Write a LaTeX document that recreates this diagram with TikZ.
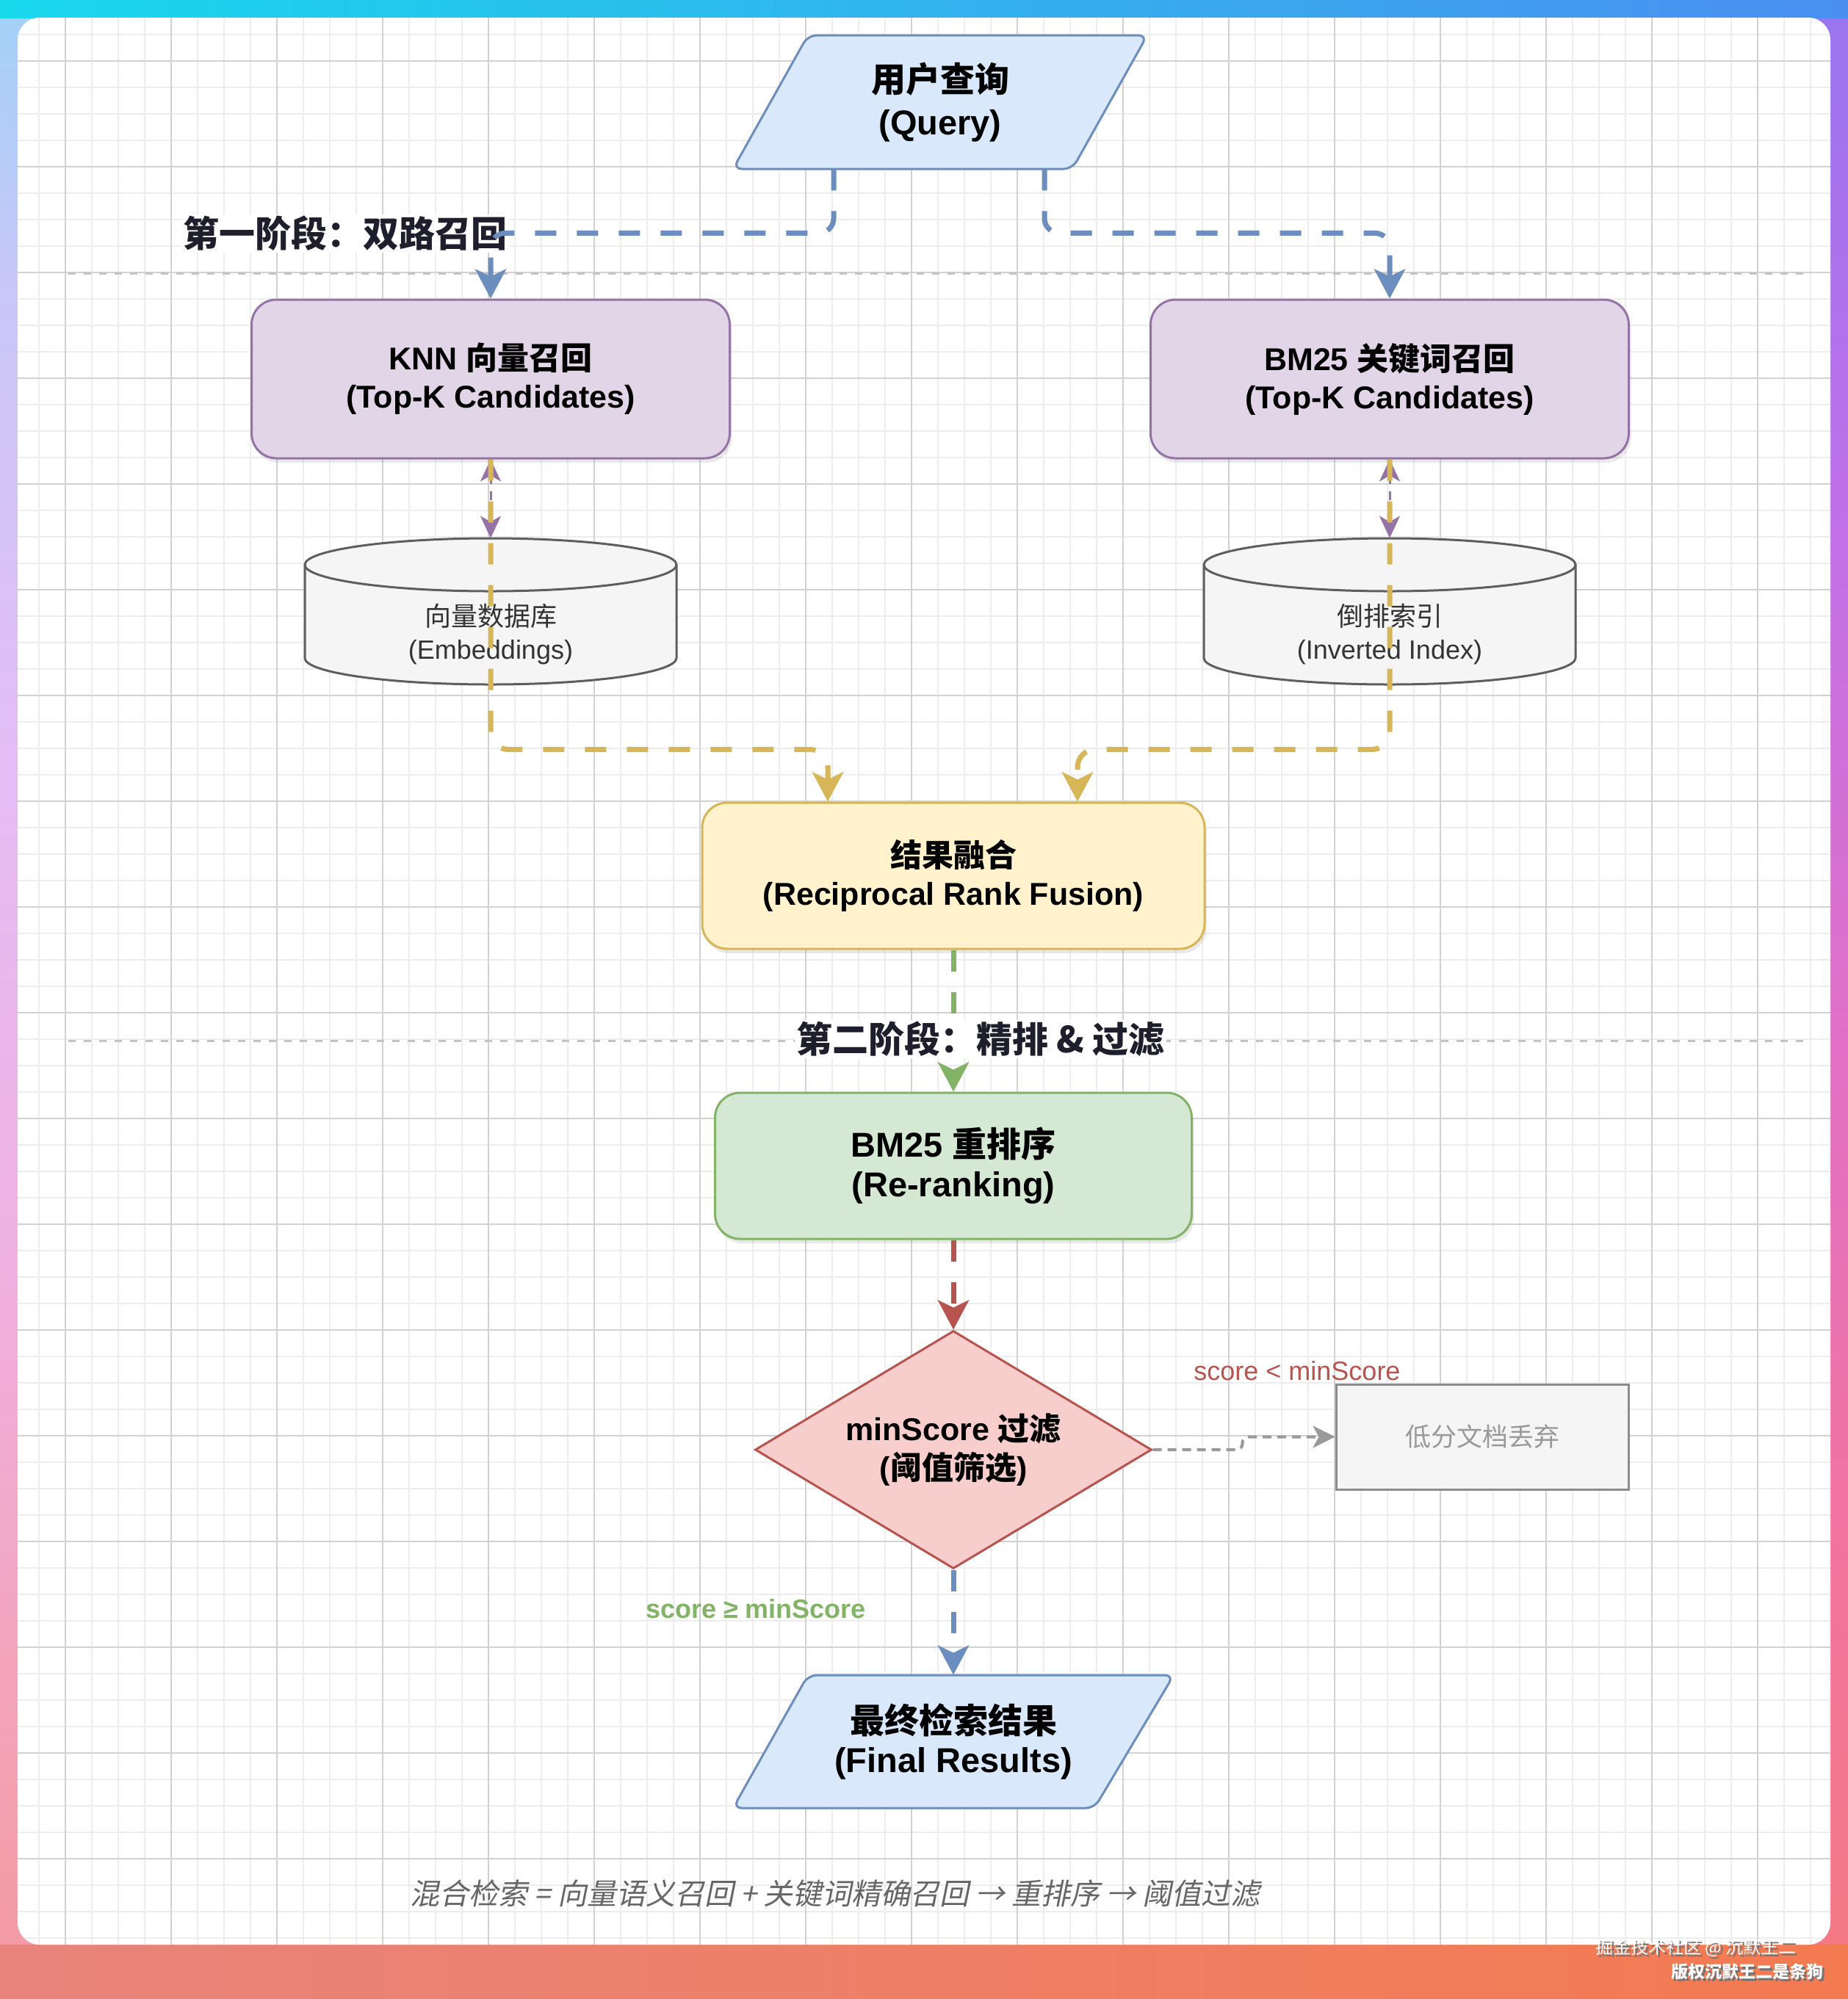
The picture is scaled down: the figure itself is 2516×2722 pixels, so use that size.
\documentclass[tikz,border=0pt]{standalone}
\usepackage{fontspec}
\setmainfont{Liberation Sans}
\newfontfamily\cjk{Noto Sans CJK SC}
\newfontfamily\cjkit{Noto Sans CJK SC}[FakeSlant=0.2]
\usetikzlibrary{arrows.meta,shapes.geometric,shadows}
\newcommand\zhtxt[1]{{\cjk #1}}

\definecolor{bfill}{HTML}{DAE8FC}\definecolor{bstroke}{HTML}{6C8EBF}
\definecolor{pfill}{HTML}{E1D5E7}\definecolor{pstroke}{HTML}{9673A6}
\definecolor{yfill}{HTML}{FFF2CC}\definecolor{ystroke}{HTML}{D6B656}
\definecolor{gfill}{HTML}{D5E8D4}\definecolor{gstroke}{HTML}{82B366}
\definecolor{rfill}{HTML}{F8CECC}\definecolor{rstroke}{HTML}{B85450}
\definecolor{cfill}{HTML}{F5F5F5}\definecolor{cstroke}{HTML}{5E5E5E}
\definecolor{phasetxt}{HTML}{1E1E2C}
\definecolor{gminor}{HTML}{EDEDED}\definecolor{gmajor}{HTML}{D2D2D2}
\definecolor{sepc}{HTML}{C4C4C4}
\definecolor{captxt}{HTML}{666666}
\definecolor{distxt}{HTML}{999999}\definecolor{disstroke}{HTML}{8C8C8C}
\definecolor{cyltxt}{HTML}{333333}
% frame colours
\definecolor{L0}{HTML}{E8847C}\definecolor{L1}{HTML}{F08C8C}\definecolor{L2}{HTML}{F4A0B0}
\definecolor{L3}{HTML}{F0B0E0}\definecolor{L4}{HTML}{E6BCF4}\definecolor{L5}{HTML}{C8C8F8}
\definecolor{L6}{HTML}{80D8F8}\definecolor{L7}{HTML}{18D8EC}
\definecolor{R0}{HTML}{F47A50}\definecolor{R1}{HTML}{F47C64}\definecolor{R2}{HTML}{F47A80}
\definecolor{R3}{HTML}{F274A0}\definecolor{R4}{HTML}{E070C8}\definecolor{R5}{HTML}{C070E8}
\definecolor{R6}{HTML}{9A74F0}\definecolor{R7}{HTML}{7080F0}\definecolor{R8}{HTML}{4A8FF0}
\definecolor{TM}{HTML}{00C0EC}\definecolor{BM}{HTML}{EC8068}

\pgfdeclareverticalshading{leftgrad}{100bp}{color(0bp)=(L0); color(17bp)=(L1); color(30bp)=(L2); color(43bp)=(L3); color(55bp)=(L4); color(68bp)=(L5); color(81bp)=(L6); color(100bp)=(L7)}
\pgfdeclareverticalshading{rightgrad}{100bp}{color(0bp)=(R0); color(11bp)=(R1); color(23bp)=(R2); color(36bp)=(R3); color(49bp)=(R4); color(62bp)=(R5); color(75bp)=(R6); color(87bp)=(R7); color(100bp)=(R8)}

\tikzset{
  box/.style={draw, line width=1.5pt, rounded corners=17pt, align=center, inner sep=0pt,
    font=\bfseries\fontsize{21.5}{26}\selectfont,
    drop shadow={opacity=0.17, shadow xshift=1.5pt, shadow yshift=-3pt}},
  pgramshape/.style={draw=bstroke, fill=bfill, line width=1.5pt, rounded corners=6pt},
  pgramtext/.style={rectangle, inner sep=0pt, align=center},
  cylstyle/.style={draw=cstroke, fill=cfill, line width=1.5pt},
  cyltext/.style={align=center, text=cyltxt, font=\fontsize{18}{22.5}\selectfont},
  phase/.style={font=\cjk\bfseries\fontsize{24.5}{28}\selectfont, text=phasetxt, fill=white, inner sep=1pt},
  dashbig/.style={line width=3.5pt, dash pattern=on 14.5pt off 14pt},
  bigtip/.style={-{Stealth[length=20pt,width=21pt,inset=5pt]}},
  cblue/.style={dashbig, bigtip, draw=bstroke, rounded corners=10pt},
  cyellow/.style={dashbig, bigtip, draw=ystroke, rounded corners=12pt},
  cgreen/.style={dashbig, bigtip, draw=gstroke},
  cred/.style={dashbig, bigtip, draw=rstroke},
  cpurple/.style={draw=pstroke, line width=1.5pt, dash pattern=on 6pt off 5pt,
    {Stealth[length=15pt,width=14pt,inset=4pt]}-{Stealth[length=15pt,width=14pt,inset=4pt]}},
  cgray/.style={draw=distxt, line width=2pt, dash pattern=on 6pt off 4pt, rounded corners=4pt,
    -{Stealth[length=15pt,width=15pt,inset=4pt]}},
  sepline/.style={draw=sepc, line width=1.5pt, dash pattern=on 5pt off 5.5pt},
}

\newcommand\drawcyl[1]{%
  \filldraw[cylstyle] ({#1-253},769) -- ({#1-253},896)
    arc[start angle=180,end angle=0,x radius=253,y radius=36] -- ({#1+253},769)
    arc[start angle=0,end angle=-180,x radius=253,y radius=36] -- cycle;
  \draw[cylstyle,fill=none] ({#1-253},769) arc[start angle=180,end angle=0,x radius=253,y radius=36];}

\begin{document}
\begin{tikzpicture}[x=0.5pt,y=-0.5pt]
\useasboundingbox (0,0) rectangle (2516,2722);
% gradient frame
\shade[shading=leftgrad] (0,0) rectangle (2516,2722);
\shade[shading=rightgrad] (2400,24) rectangle (2516,2648);
\shade[left color=L7, middle color=TM, right color=R8] (0,0) rectangle (2516,24);
\shade[left color=L0, middle color=BM, right color=R0] (0,2648) rectangle (2516,2722);
% card and grid
\fill[white, rounded corners=15pt] (24,24) rectangle (2492,2648);
\begin{scope}
  \clip[rounded corners=15pt] (24,24) rectangle (2492,2648);
  \foreach \x in {17,53,...,2500} \draw[gminor, line width=1.1pt] (\x,24) -- (\x,2648);
  \foreach \y in {11,47,...,2660} \draw[gminor, line width=1.1pt] (24,\y) -- (2492,\y);
  \foreach \x in {89,233,...,2500} \draw[gmajor, line width=1pt] (\x,24) -- (\x,2648);
  \foreach \y in {83,227,...,2660} \draw[gmajor, line width=1pt] (24,\y) -- (2492,\y);
\end{scope}
% phase separators
\draw[sepline] (93,372) -- (2466,372);
\draw[sepline] (93,1417) -- (2466,1417);
\node[phase] (ph1) at (470,318) {第一阶段：双路召回};

% parallelogram outlines
\filldraw[pgramshape] (1100,48) -- (1562,48) -- (1460,230) -- (998,230) -- cycle;
\filldraw[pgramshape] (1100,2281) -- (1598,2281) -- (1490,2462) -- (998,2462) -- cycle;

% nodes
\node[pgramtext, minimum width=282pt, minimum height=91pt, font=\bfseries\fontsize{23.5}{29}\selectfont]
  (query) at (1280,139) {\zhtxt{用户查询}\\(Query)};
\node[box, fill=pfill, draw=pstroke, minimum width=325.5pt, minimum height=108pt]
  (knn) at (668,516) {KNN \zhtxt{向量召回}\\(Top-K Candidates)};
\node[box, fill=pfill, draw=pstroke, minimum width=325.5pt, minimum height=108pt]
  (bm25) at (1892,516) {BM25 \zhtxt{关键词召回}\\(Top-K Candidates)};
\drawcyl{668}
\drawcyl{1892}
\node[minimum width=253pt, minimum height=99.5pt, inner sep=0pt] (vdb) at (668,832.5) {};
\node[minimum width=253pt, minimum height=99.5pt, inner sep=0pt] (inv) at (1892,832.5) {};
\node[cyltext] (vdbt) at (668,864) {\zhtxt{向量数据库}\\(Embeddings)};
\node[cyltext] (invt) at (1892,864) {\zhtxt{倒排索引}\\(Inverted Index)};
\node[box, fill=yfill, draw=ystroke, minimum width=342pt, minimum height=99.5pt]
  (rrf) at (1298,1192.5) {\zhtxt{结果融合}\\(Reciprocal Rank Fusion)};
\node[box, fill=gfill, draw=gstroke, minimum width=324.5pt, minimum height=99.5pt,
  font=\bfseries\fontsize{23.5}{27}\selectfont]
  (rerank) at (1298,1587.5) {BM25 \zhtxt{重排序}\\(Re-ranking)};
\node[diamond, aspect=1.667, fill=rfill, draw=rstroke, line width=1.5pt, inner sep=0pt,
  minimum width=270pt, minimum height=162pt, align=center,
  font=\bfseries\fontsize{21.5}{26.5}\selectfont]
  (dia) at (1298,1974) {minScore \zhtxt{过滤}\\(\zhtxt{阈值筛选})};
\node[rectangle, fill=cfill, draw=disstroke, line width=1.5pt, minimum width=199pt,
  minimum height=71.5pt, text=distxt, font=\cjk\fontsize{17.5}{21}\selectfont]
  (discard) at (2018,1956.5) {低分文档丢弃};
\node[pgramtext, minimum width=300pt, minimum height=90.5pt, font=\bfseries\fontsize{23.5}{26.5}\selectfont]
  (final) at (1298,2371.5) {\zhtxt{最终检索结果}\\(Final Results)};

% connectors
\draw[cblue] ([xshift=-72.5pt]query.south) -- ++(0,87) -| (knn.north);
\draw[cblue] ([xshift=71pt]query.south) -- ++(0,87) -| (bm25.north);
\draw[cpurple] (knn.south) -- (vdb.north);
\draw[cpurple] (bm25.south) -- (inv.north);
\draw[cyellow] (knn.south) -- ++(0,395) -| ([xshift=-85.5pt]rrf.north);
\draw[cyellow] (bm25.south) -- ++(0,395) -| ([xshift=84.5pt]rrf.north);
\draw[cgreen] (rrf.south) -- (rerank.north);
\draw[cred] (rerank.south) -- (dia.north);
\draw[cgray] (dia.east) -- ++(122,0) |- (discard.west);
\draw[cblue] (dia.south) -- (final.north);

\node[phase] (ph2) at (1335,1415) {第二阶段：精排 \& 过滤};

% labels
\node[text=rstroke, font=\fontsize{18}{22}\selectfont] (lowlbl) at (1766,1867) {score < minScore};
\node[text=gstroke, font=\bfseries\fontsize{18}{22}\selectfont] (passlbl) at (1029,2191) {score ≥ minScore};
\node[text=captxt, font=\cjkit\fontsize{20}{24}\selectfont] (caption) at (1137,2578)
  {混合检索 = 向量语义召回 + 关键词精确召回 → 重排序 → 阈值过滤};

% watermark
\node[anchor=east, text=black!55, font=\cjk\fontsize{12}{14}\selectfont] (wm1s) at (2456,2655) {掘金技术社区 @ 沉默王二};
\node[anchor=east, text=white, font=\cjk\fontsize{12}{14}\selectfont] (wm1) at (2453,2652) {掘金技术社区 @ 沉默王二};
\node[anchor=east, text=black!55, font=\cjk\bfseries\fontsize{11.5}{14}\selectfont] (wm2s) at (2493,2688) {版权沉默王二是条狗};
\node[anchor=east, text=white, font=\cjk\bfseries\fontsize{11.5}{14}\selectfont] (wm2) at (2490,2685) {版权沉默王二是条狗};
\end{tikzpicture}
\end{document}
